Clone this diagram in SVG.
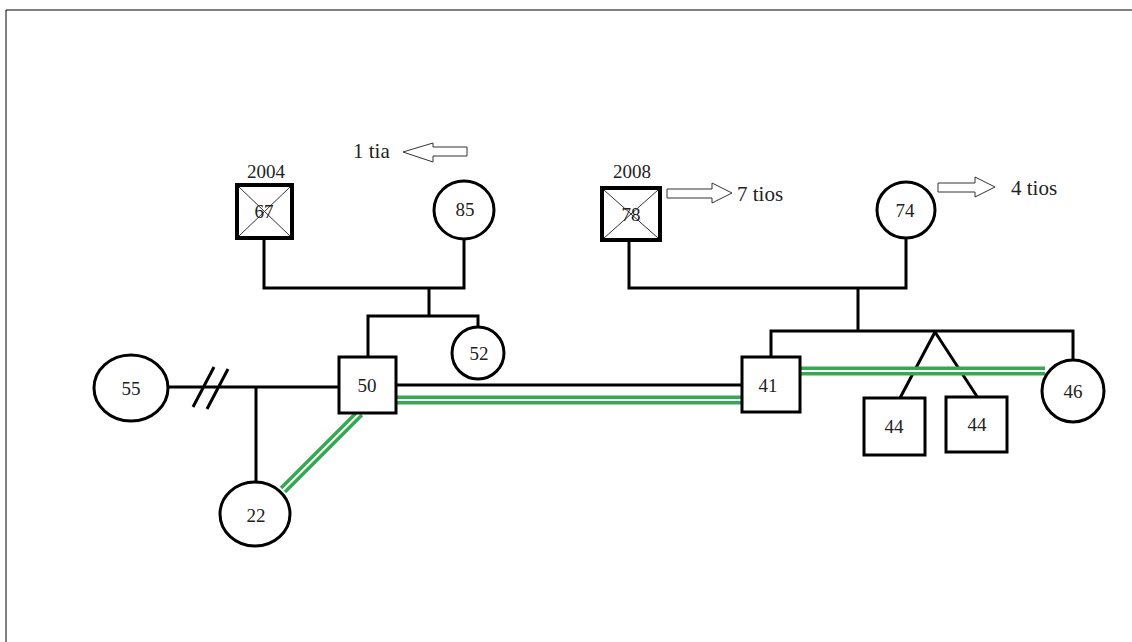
<svg xmlns="http://www.w3.org/2000/svg" width="1132" height="642" viewBox="0 0 1132 642">
<style>
.ln{fill:none;stroke:#000;stroke-width:3}
.nd{fill:#fff;stroke:#000;stroke-width:3}
.dead{fill:#fff;stroke:#000;stroke-width:4}
.x{stroke:#333;stroke-width:1}
.g{fill:none;stroke:#34a853;stroke-width:9}
.gw{fill:none;stroke:#fff;stroke-width:2}
.t{font-family:"Liberation Serif","Times New Roman",serif;font-size:19px;fill:#222}
.y{font-size:19px}
.n{font-size:21px}
.c{text-anchor:middle}
.ar{fill:#fff;stroke:#333;stroke-width:1}
</style>
<rect width="1132" height="642" fill="#fff"/>
<path d="M6 642V10H1132" fill="none" stroke="#000" stroke-width="1"/>
<g id="connectors">
<path class="ln" d="M264 239V288H464V239"/>
<path class="ln" d="M429 288V316M368 357V316H478V327"/>
<path class="ln" d="M629 240V288H906V239"/>
<path class="ln" d="M858 288V331M771 357V331H1073V361"/>
<path class="ln" d="M935 332L900 398M935 332L978 398"/>
<path class="ln" d="M168 387H338M256 387V482M193 407L214 367M207 409L228 369"/>
<path class="ln" d="M396 385H742"/>
<path class="g" d="M396 400H742M800 371H1045M283 490L360 413"/>
<path class="gw" d="M396 400H742M800 371H1045M283 490L360 413"/>
</g>
<g id="n67"><rect class="dead" x="237" y="185" width="55" height="53"/><path class="x" d="M239 187L290 236M290 187L239 236"/><text class="t c" x="264" y="218">67</text><text class="t y c" x="266" y="178">2004</text></g>
<g id="n85"><ellipse class="nd" cx="464" cy="210" rx="30" ry="29"/><text class="t c" x="465" y="216">85</text></g>
<g id="n78"><rect class="dead" x="602" y="188" width="58" height="52"/><path class="x" d="M604 190L658 238M658 190L604 238"/><text class="t c" x="631" y="221">78</text><text class="t y c" x="632" y="178">2008</text></g>
<g id="n74"><ellipse class="nd" cx="906" cy="210" rx="29" ry="28"/><text class="t c" x="905" y="217">74</text></g>
<g id="n52"><ellipse class="nd" cx="478" cy="353" rx="26" ry="26"/><text class="t c" x="479" y="360">52</text></g>
<g id="n55"><ellipse class="nd" cx="131" cy="388" rx="37" ry="33"/><text class="t c" x="131" y="395">55</text></g>
<g id="n50"><rect class="nd" x="339" y="357" width="57" height="56"/><text class="t c" x="367" y="392">50</text></g>
<g id="n22"><ellipse class="nd" cx="255" cy="514" rx="35" ry="32"/><text class="t c" x="256" y="522">22</text></g>
<g id="n41"><rect class="nd" x="742" y="357" width="58" height="55"/><text class="t c" x="768" y="392">41</text></g>
<g id="n44a"><rect class="nd" x="864" y="398" width="61" height="57"/><text class="t c" x="894" y="433">44</text></g>
<g id="n44b"><rect class="nd" x="946" y="397" width="61" height="55"/><text class="t c" x="977" y="431">44</text></g>
<g id="n46"><ellipse class="nd" cx="1073" cy="391" rx="31" ry="31"/><text class="t c" x="1073" y="398">46</text></g>
<g id="notes">
<text class="t n" x="353" y="158">1 tia</text>
<path class="ar" d="M403 152L433 143V147H467V156H433V162Z"/>
<path class="ar" d="M667 189H712V183L732 193L712 203V198H667Z"/>
<text class="t n" x="737" y="201">7 tios</text>
<path class="ar" d="M938 183H975V177L995 187L975 197V192H938Z"/>
<text class="t n" x="1011" y="195">4 tios</text>
</g>
</svg>
